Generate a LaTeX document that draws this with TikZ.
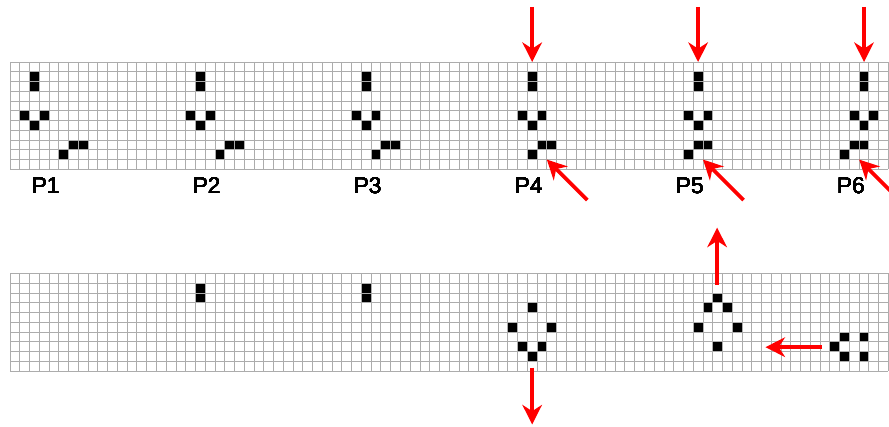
\documentclass[tikz,border=0pt]{standalone}
\usepackage{fontspec}
\setsansfont{Liberation Sans}
\usetikzlibrary{arrows.meta}
\tikzset{
  cellline/.style={draw=gray!65, line width=0.6pt},
  alive/.style={fill=black, draw=gray!65, line width=0.6pt},
  redarr/.style={-{Stealth[length=5mm, width=5mm, inset=1.6mm]}, line width=2.7pt, red},
  plabel/.style={font=\sffamily\fontsize{16.5}{19}\selectfont, inner sep=0pt},
}
\newcommand{\lifecell}[2]{\fill[alive] ({#1},{#2}) rectangle ++(1,1);}

\begin{document}
\begin{tikzpicture}[x=0.25cm, y=-0.25cm]
\useasboundingbox (-1.025,-6.35) rectangle (90.06,37.3);
% upper strip, P1 to P6
\foreach \i in {0,...,90} \draw[cellline] (\i,0) -- (\i,11);
\foreach \j in {0,...,11} \draw[cellline] (0,\j) -- (90,\j);
\foreach \k in {0,...,5}{
  \pgfmathtruncatemacro{\bc}{2+17*\k}
  \pgfmathtruncatemacro{\gc}{\bc+3-\k}
  \pgfmathtruncatemacro{\n}{\k+1}
  \foreach \dc/\r in {0/1,0/2,-1/5,1/5,0/6} \lifecell{\bc+(\dc)}{\r}
  \foreach \dc/\r in {1/8,2/8,0/9} \lifecell{\gc+(\dc)}{\r}
  \node[plabel] (p\n) at ({3.65+16.5*\k},12.7) {P\n};
}
\foreach \k in {3,4,5}{
  \pgfmathtruncatemacro{\bc}{2+17*\k}
  \pgfmathtruncatemacro{\n}{\k+1}
  \coordinate (top\n) at ({\bc+0.5},-5.65);
  \coordinate (hit\n) at ({\bc+0.5},0);
  \coordinate (tail\n) at ({\bc+9.15-\k},14.15);
  \coordinate (tip\n) at ({\bc+5-\k},10);
  \draw[redarr] (top\n) -- (hit\n);
  \draw[redarr] (tail\n) -- (tip\n);
}
% lower strip
\begin{scope}[shift={(0,21.67)}]
\foreach \i in {0,...,90} \draw[cellline] (\i,0) -- (\i,10);
\foreach \j in {0,...,10} \draw[cellline] (0,\j) -- (90,\j);
\foreach \c/\r in {19/1,19/2,36/1,36/2,53/3,51/5,55/5,52/7,54/7,53/8,72/2,71/3,73/3,70/5,74/5,72/7,85/6,87/6,84/7,85/8,87/8}
  \lifecell{\c}{\r}
\coordinate (dn0) at (53.5,9.65); \coordinate (dn1) at (53.5,15.47);
\coordinate (up0) at (72.45,1.18); \coordinate (up1) at (72.45,-4.7);
\coordinate (lf0) at (83.2,7.55); \coordinate (lf1) at (77.4,7.55);
\draw[redarr] (dn0) -- (dn1);
\draw[redarr] (up0) -- (up1);
\draw[redarr] (lf0) -- (lf1);
\end{scope}
\end{tikzpicture}
\end{document}
